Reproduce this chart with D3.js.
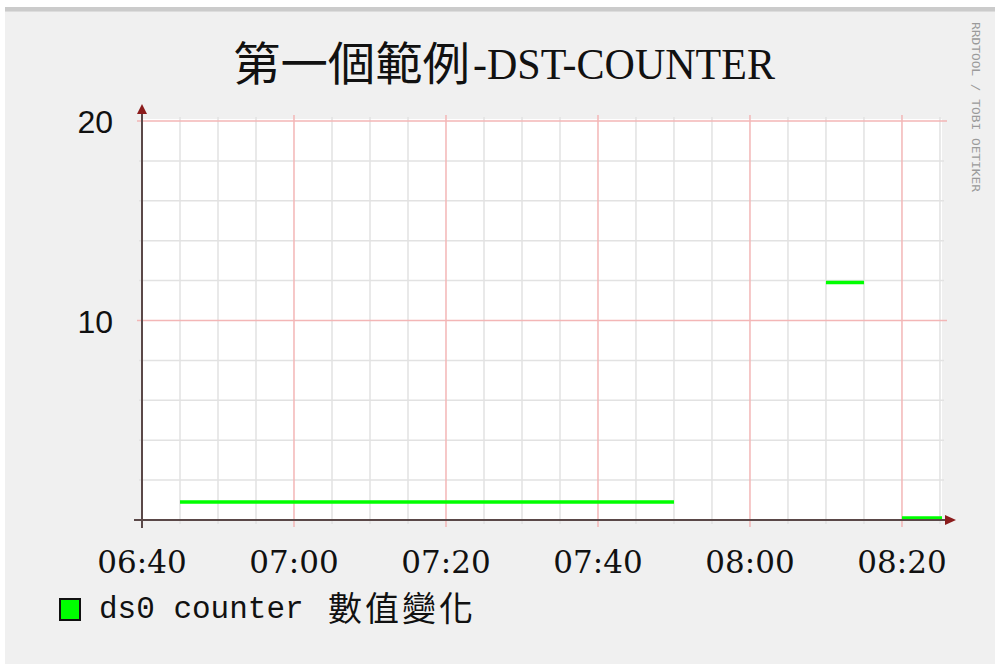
<!DOCTYPE html>
<html>
<head>
<meta charset="utf-8">
<script src="https://cdn.jsdelivr.net/npm/d3@7"></script>
<style>
  html, body { margin: 0; padding: 0; background: #fff; }
  svg { display: block; }
</style>
</head>
<body>
<svg id="chart" width="995" height="664"></svg>
<script>
// rrdtool style counter graph, redrawn with d3

const titleCjk = '第一個範例';
const titleLatin = '-DST-COUNTER';
const legendLabel = 'ds0 counter';
const legendCjk = '數值變化';
const watermark = 'RRDTOOL / TOBI OETIKER';

// 5 minute steps, value holds from that time until the next step
const stepTimes = ['06:40', '06:45', '06:50', '06:55', '07:00', '07:05', '07:10', '07:15',
  '07:20', '07:25', '07:30', '07:35', '07:40', '07:45', '07:50', '07:55',
  '08:00', '08:05', '08:10', '08:15', '08:20', '08:25'];
const counterValues = [null, 0.9, 0.9, 0.9, 0.9, 0.9, 0.9, 0.9,
  0.9, 0.9, 0.9, 0.9, 0.9, 0.9, null, null,
  null, null, 11.9, null, 0.1, 0.1];

const xTickLabels = ['06:40', '07:00', '07:20', '07:40', '08:00', '08:20'];
const yTickLabels = [10, 20];

const parse = d3.timeParse('%H:%M:%S');
const t = s => parse(s.length == 5 ? s + ':00' : s);
const tStart = t('06:40'), tEnd = t('08:25:16');

let svg = d3.select('#chart'),
  pLeft = 142, pRight = 942, pTop = 121, pBottom = 520;

let x = d3.scaleTime().domain([tStart, tEnd]).range([pLeft, pRight]);
let y = d3.scaleLinear().domain([0, 20]).range([pBottom, pTop]);

// background + top shade
svg.append('rect').attr('x', 5).attr('y', 7).attr('width', 990).attr('height', 657).attr('fill', '#f0f0f0');
svg.append('rect').attr('x', 5).attr('y', 7).attr('width', 990).attr('height', 4).attr('fill', '#cbcbcb');
svg.append('rect').attr('x', 5).attr('y', 11).attr('width', 990).attr('height', 1).attr('fill', '#dcdcdc');

// canvas
svg.append('rect')
  .attr('x', pLeft).attr('y', pTop - 2)
  .attr('width', pRight - pLeft).attr('height', pBottom - pTop + 2)
  .attr('fill', '#fff');

let grid = svg.append('g');

// minor grid
let minorX = d3.timeMinute.every(5).range(tStart, tEnd).filter(d => d.getMinutes() % 20 != 0);
grid.selectAll('.vminor').data(minorX).enter().append('line')
  .attr('x1', d => x(d)).attr('x2', d => x(d))
  .attr('y1', pTop - 4).attr('y2', pBottom + 4)
  .attr('stroke', '#e2e2e2').attr('stroke-width', 1.5);

let minorY = d3.range(2, 20, 2).filter(v => v % 10 != 0);
grid.selectAll('.hminor').data(minorY).enter().append('line')
  .attr('x1', pLeft - 3).attr('x2', pRight + 2)
  .attr('y1', d => y(d)).attr('y2', d => y(d))
  .attr('stroke', '#e2e2e2').attr('stroke-width', 1.5);

// major grid
let majorX = xTickLabels.map(t);
grid.selectAll('.vmajor').data(majorX).enter().append('line')
  .attr('x1', d => x(d)).attr('x2', d => x(d))
  .attr('y1', pTop - 6).attr('y2', pBottom + 7)
  .attr('stroke', '#f3b6b6').attr('stroke-width', 1.5);

grid.selectAll('.hmajor').data(yTickLabels).enter().append('line')
  .attr('x1', pLeft - 5).attr('x2', pRight + 5)
  .attr('y1', d => y(d)).attr('y2', d => y(d))
  .attr('stroke', '#f3b6b6').attr('stroke-width', 1.5);

// data line: two points per step interval, null between gaps
let pts = [];
counterValues.forEach((v, i) => {
  if (v == null) { pts.push(null); return; }
  let a = t(stepTimes[i]);
  let b = i + 1 < stepTimes.length ? t(stepTimes[i + 1]) : tEnd;
  if (b > tEnd) b = tEnd;
  pts.push({ t: a, v: v }, { t: b, v: v });
});

let line = d3.line()
  .defined(d => d != null)
  .x(d => x(d.t))
  .y(d => y(d.v));

svg.append('path')
  .datum(pts)
  .attr('d', line)
  .attr('fill', 'none')
  .attr('stroke', '#00ff00')
  .attr('stroke-width', 3.5);

// axes
let axis = svg.append('g').attr('stroke', '#5a4848').attr('stroke-width', 2);
axis.append('line').attr('x1', pLeft - 8).attr('x2', pRight + 4).attr('y1', pBottom).attr('y2', pBottom);
axis.append('line').attr('x1', pLeft).attr('x2', pLeft).attr('y1', pBottom + 8).attr('y2', pTop - 8);

svg.append('path')
  .attr('d', `M${pRight + 3},${pBottom - 5}L${pRight + 14},${pBottom}L${pRight + 3},${pBottom + 5}Z`)
  .attr('fill', '#8b1c1c');
svg.append('path')
  .attr('d', `M${pLeft - 5},${pTop - 7}L${pLeft},${pTop - 17}L${pLeft + 5},${pTop - 7}Z`)
  .attr('fill', '#8b1c1c');

// tick labels
svg.selectAll('.xlab').data(xTickLabels).enter().append('text')
  .attr('x', d => x(t(d)))
  .attr('y', 573)
  .attr('text-anchor', 'middle')
  .attr('font-family', '"DejaVu Serif", serif')
  .attr('font-size', 31)
  .attr('fill', '#111')
  .text(d => d);

svg.selectAll('.ylab').data(yTickLabels).enter().append('text')
  .attr('x', 113)
  .attr('y', d => y(d) + 12)
  .attr('text-anchor', 'end')
  .attr('font-family', '"Liberation Sans", sans-serif')
  .attr('font-size', 32)
  .attr('fill', '#111')
  .text(d => d);

// title: CJK part and half-width latin part
let ttl = svg.append('g').attr('fill', '#111');
ttl.append('text')
  .attr('x', 233).attr('y', 80)
  .attr('textLength', 237).attr('lengthAdjust', 'spacingAndGlyphs')
  .attr('font-family', '"Noto Sans CJK TC", sans-serif')
  .attr('font-size', 46)
  .text(titleCjk);
ttl.append('text')
  .attr('x', 473).attr('y', 79)
  .attr('textLength', 302).attr('lengthAdjust', 'spacingAndGlyphs')
  .attr('font-family', '"Liberation Serif", serif')
  .attr('font-size', 44)
  .text(titleLatin);

// watermark
svg.append('text')
  .attr('transform', 'translate(972,22) rotate(90)')
  .attr('textLength', 170).attr('lengthAdjust', 'spacingAndGlyphs')
  .attr('font-family', '"DejaVu Sans Mono", monospace')
  .attr('font-size', 11)
  .attr('fill', '#9a9a9a')
  .text(watermark);

// legend
svg.append('rect')
  .attr('x', 60).attr('y', 599).attr('width', 20).attr('height', 21)
  .attr('fill', '#00ff00').attr('stroke', '#111').attr('stroke-width', 2);

svg.append('text')
  .attr('x', 99).attr('y', 618)
  .attr('font-family', '"Liberation Mono", monospace')
  .attr('font-size', 31)
  .attr('fill', '#111')
  .text(legendLabel);
svg.append('text')
  .attr('x', 328).attr('y', 621)
  .attr('textLength', 145).attr('lengthAdjust', 'spacing')
  .attr('font-family', '"Noto Sans CJK TC", sans-serif')
  .attr('font-size', 34)
  .attr('fill', '#111')
  .text(legendCjk);
</script>
</body>
</html>
